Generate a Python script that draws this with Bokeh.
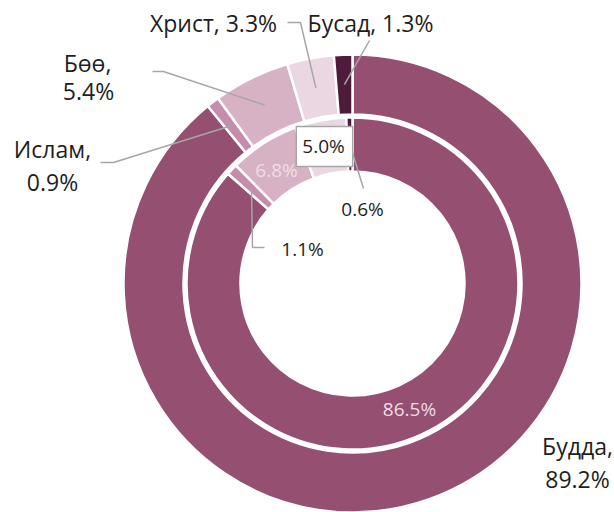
import numpy as np
from bokeh.plotting import figure
from bokeh.models import Range1d, ColumnDataSource
from bokeh.core.properties import value
from bokeh.embed import file_html
from bokeh.resources import INLINE

# ---- data ----
names = ["Будда", "Ислам", "Бөө", "Христ", "Бусад"]
outer_vals = [89.2, 0.9, 5.4, 3.3, 1.3]   # outer ring, %
inner_vals = [86.5, 1.1, 6.8, 5.0, 0.6]   # inner ring, %
colors = ["#944F71", "#C58DAB", "#D7B2C5", "#EBD7E1", "#4E1C3A"]

# ---- layout (pixel coordinates, y downwards) ----
W, H = 614, 512
CX, CY = 352, 283
R_OUT = (169, 229)
R_IN = (112, 166)
FONT = value("Open Sans")
TXT = "#1E1E1E"
LEAD = "#A6A6A6"

p = figure(width=W, height=H, output_backend="svg", toolbar_location=None,
           x_range=Range1d(0, W), y_range=Range1d(-H, 0),
           min_border=0, background_fill_color="white", border_fill_color="white")
p.axis.visible = False
p.grid.visible = False
p.outline_line_color = None


def angles(vals):
    tot = float(sum(vals))
    cum = np.concatenate([[0.0], np.cumsum(vals)]) / tot
    start = np.pi / 2 - cum[:-1] * 2 * np.pi
    end = np.pi / 2 - cum[1:] * 2 * np.pi
    return start, end, (start + end) / 2


def pt(r, a):
    return CX + r * np.cos(a), -CY + r * np.sin(a)


for vals, (r0, r1) in ((outer_vals, R_OUT), (inner_vals, R_IN)):
    s, e, _ = angles(vals)
    src = ColumnDataSource(dict(start=s, end=e, color=colors))
    p.annular_wedge(x=CX, y=-CY, inner_radius=r0, outer_radius=r1,
                    start_angle="start", end_angle="end", direction="clock",
                    fill_color="color", line_color="white", line_width=2.5,
                    source=src)

_, _, omid = angles(outer_vals)
_, _, imid = angles(inner_vals)
rmo = (R_OUT[0] + R_OUT[1]) / 2
rmi = (R_IN[0] + R_IN[1]) / 2

# leader lines: label-side points (pixels) then the slice anchor
leaders = [
    ([(287, 22), (300, 22)], pt(rmo, omid[3])),
    ([(369, 40)], pt(rmo, omid[4])),
    ([(152, 71), (163, 71)], pt(rmo, omid[2])),
    ([(100, 162), (113, 162)], pt(rmo, omid[1])),
    ([(264, 247), (252, 247)], pt(rmi, imid[1])),
    ([(363, 188)], pt(rmi, imid[4])),
]
xs, ys = [], []
for pts, (ax, ay) in leaders:
    xs.append([q[0] for q in pts] + [ax])
    ys.append([-q[1] for q in pts] + [ay])
p.multi_line(xs=xs, ys=ys, line_color=LEAD, line_width=1.5)

# outer labels
def pct(v):
    return f"{v:.1f}%"

outer_pos = {
    0: [(577, 445), (577, 478)],
    1: [(52, 148), (52, 181)],
    2: [(87, 62), (88, 90)],
    3: [(213, 22)],
    4: [(370, 22)],
}
tx, ty, tt = [], [], []
for i, pos in outer_pos.items():
    if len(pos) == 2:
        lines = [names[i] + ",", pct(outer_vals[i])]
    else:
        lines = [names[i] + ", " + pct(outer_vals[i])]
    for (x, y), t in zip(pos, lines):
        tx.append(x); ty.append(-y); tt.append(t)
p.text(x=tx, y=ty, text=tt, text_font=FONT, text_font_size="23px",
       text_color=TXT, text_align="center", text_baseline="middle")

# inner labels
inner_pos = {0: (409, 408), 1: (302, 248), 2: (276, 169), 3: (324, 146), 4: (362, 208)}
light = [0, 2]
p.text(x=[inner_pos[i][0] for i in light], y=[-inner_pos[i][1] for i in light],
       text=[pct(inner_vals[i]) for i in light], text_font=FONT,
       text_font_size="19px", text_color="#EFDDE6", text_align="center",
       text_baseline="middle")
dark = [1, 4]
p.text(x=[inner_pos[i][0] for i in dark], y=[-inner_pos[i][1] for i in dark],
       text=[pct(inner_vals[i]) for i in dark], text_font=FONT,
       text_font_size="19px", text_color=TXT, text_align="center",
       text_baseline="middle")
p.text(x=[inner_pos[3][0]], y=[-inner_pos[3][1]], text=[pct(inner_vals[3])],
       text_font=FONT, text_font_size="19px", text_color=TXT,
       text_align="center", text_baseline="middle",
       background_fill_color="white", border_line_color=LEAD,
       border_line_width=1.5, padding=(6, 8, 6, 8))

open("out.html", "w").write(file_html(p, INLINE))
